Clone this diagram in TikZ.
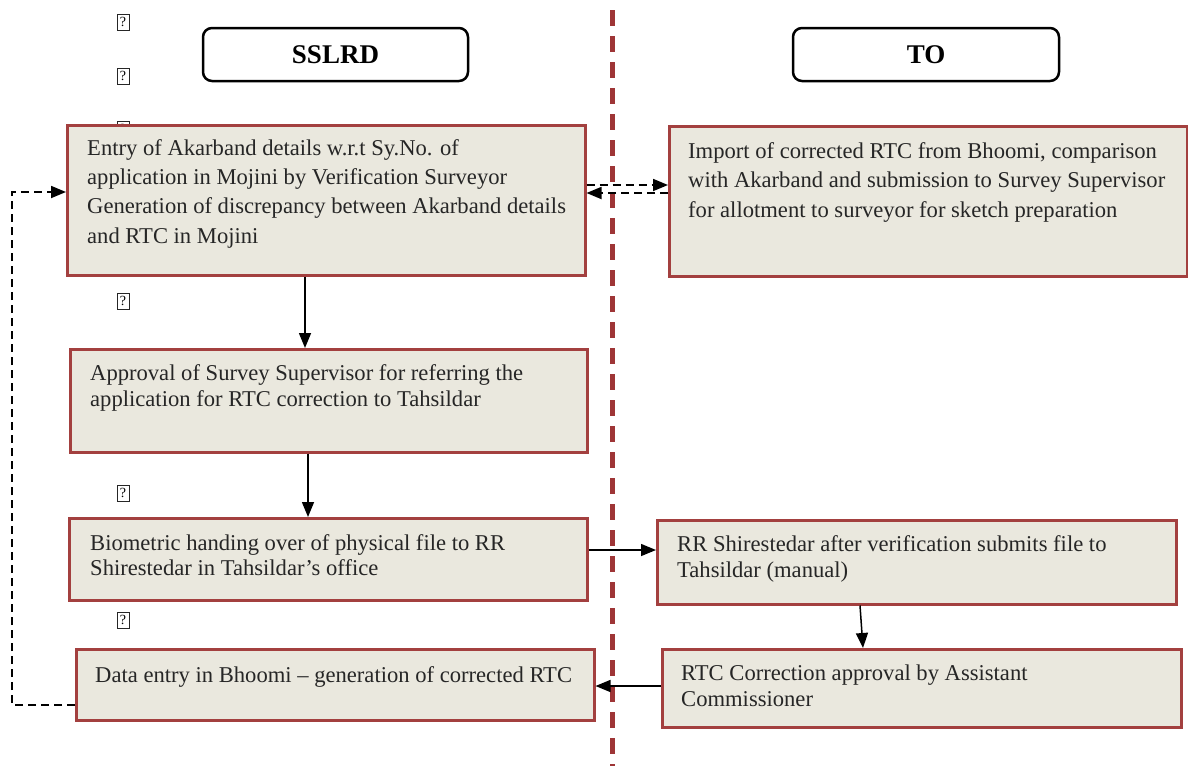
\documentclass[tikz,border=0pt]{standalone}
\usepackage{fontspec}
\setmainfont{Liberation Serif}
\usetikzlibrary{arrows.meta}
\definecolor{boxborder}{HTML}{A3403F}
\definecolor{boxfill}{HTML}{EAE8DE}
\definecolor{divider}{HTML}{9E3536}
\tikzset{
  flowbox/.style={draw=boxborder, fill=boxfill, line width=2.5pt, rectangle, inner sep=0pt, anchor=north west},
  headbox/.style={draw=black, line width=2.5pt, rounded corners=9pt, rectangle, inner sep=0pt, font=\fontsize{27}{30}\selectfont\bfseries},
  boxtext/.style={anchor=north west, inner sep=0pt, align=left, text=black!85},
  qmark/.style={draw=black!85, line width=1pt, inner sep=0.5pt, minimum width=12pt, minimum height=16pt, font=\fontsize{14}{14}\selectfont},
  arr/.style={line width=1.5pt, -{Triangle[length=15pt,width=12pt]}},
  darr/.style={line width=1.8pt, dash pattern=on 8pt off 5pt, -{Triangle[length=15pt,width=12pt]}},
}
\begin{document}
\begin{tikzpicture}[x=1pt,y=-1pt]
\useasboundingbox (0,0) rectangle (1188,766);
% divider
\coordinate (dtop) at (612,10);
\coordinate (dbot) at (612,766);
\draw[divider, line width=5pt, dash pattern=on 16pt off 10pt] (dtop) -- (dbot);
% question-mark glyph boxes
\node[qmark] (q1) at (123,22) {?};
\node[qmark] (q2) at (123,76) {?};
\node[qmark] (q3) at (123,129) {?};
\node[qmark] (q4) at (123,301) {?};
\node[qmark] (q5) at (123,493) {?};
\node[qmark] (q6) at (123,620) {?};
% headers
\node[headbox, minimum width=265pt, minimum height=53pt] (h1) at (335.5,54.5) {SSLRD};
\node[headbox, minimum width=266pt, minimum height=53pt] (h2) at (926,54.5) {TO};
% boxes
\node[flowbox, minimum width=518pt, minimum height=150pt] (b1) at (66,124) {};
\node[flowbox, minimum width=518pt, minimum height=150pt] (b2) at (668,125) {};
\node[flowbox, minimum width=517pt, minimum height=103pt] (b3) at (69,348) {};
\node[flowbox, minimum width=518pt, minimum height=82pt] (b4) at (68,517) {};
\node[flowbox, minimum width=519pt, minimum height=84pt] (b5) at (656,519) {};
\node[flowbox, minimum width=519pt, minimum height=78pt] (b6) at (661,648) {};
\node[flowbox, minimum width=518pt, minimum height=71pt] (b7) at (75,648) {};
% texts
\node[boxtext, font=\fontsize{22.6}{29.3}\selectfont] (t1) at (87,139) {Entry of Akarband details w.r.t Sy.No. of\\application in Mojini by Verification Surveyor\\Generation of discrepancy between Akarband details\\and RTC in Mojini};
\node[boxtext, font=\fontsize{22.6}{29.7}\selectfont] (t2) at (688,142) {Import of corrected RTC from Bhoomi, comparison\\with Akarband and submission to Survey Supervisor\\for allotment to surveyor for sketch preparation};
\node[boxtext, font=\fontsize{22.6}{26.3}\selectfont] (t3) at (90,364) {Approval of Survey Supervisor for referring the\\application for RTC correction to Tahsildar};
\node[boxtext, font=\fontsize{22.6}{25.7}\selectfont] (t4) at (90,534) {Biometric handing over of physical file to RR\\Shirestedar in Tahsildar’s office};
\node[boxtext, font=\fontsize{22.6}{26}\selectfont] (t5) at (677,535) {RR Shirestedar after verification submits file to\\Tahsildar (manual)};
\node[boxtext, font=\fontsize{22.6}{26}\selectfont] (t6) at (681,665) {RTC Correction approval by Assistant\\Commissioner};
\node[boxtext, font=\fontsize{22.6}{26}\selectfont] (t7) at (95,666) {Data entry in Bhoomi -- generation of corrected RTC};
% connectors
\draw[arr] (b1.south -| 305,0) -- (b3.north -| 305,0);
\draw[arr] (b3.south -| 308,0) -- (b4.north -| 308,0);
\draw[arr] (b4.east |- 0,550) -- (b5.west |- 0,550);
\draw[arr] (b5.south -| 860,0) -- (b6.north -| 863,0);
\draw[arr] (b6.west |- 0,686) -- (b7.east |- 0,686);
\draw[darr] (b1.east |- 0,185) -- (b2.west |- 0,185);
\draw[darr] (b2.west |- 0,193) -- (b1.east |- 0,193);
\draw[darr] (b7.west |- 0,705) -- ++(-63,0) |- (b1.west |- 0,192);
\end{tikzpicture}
\end{document}
